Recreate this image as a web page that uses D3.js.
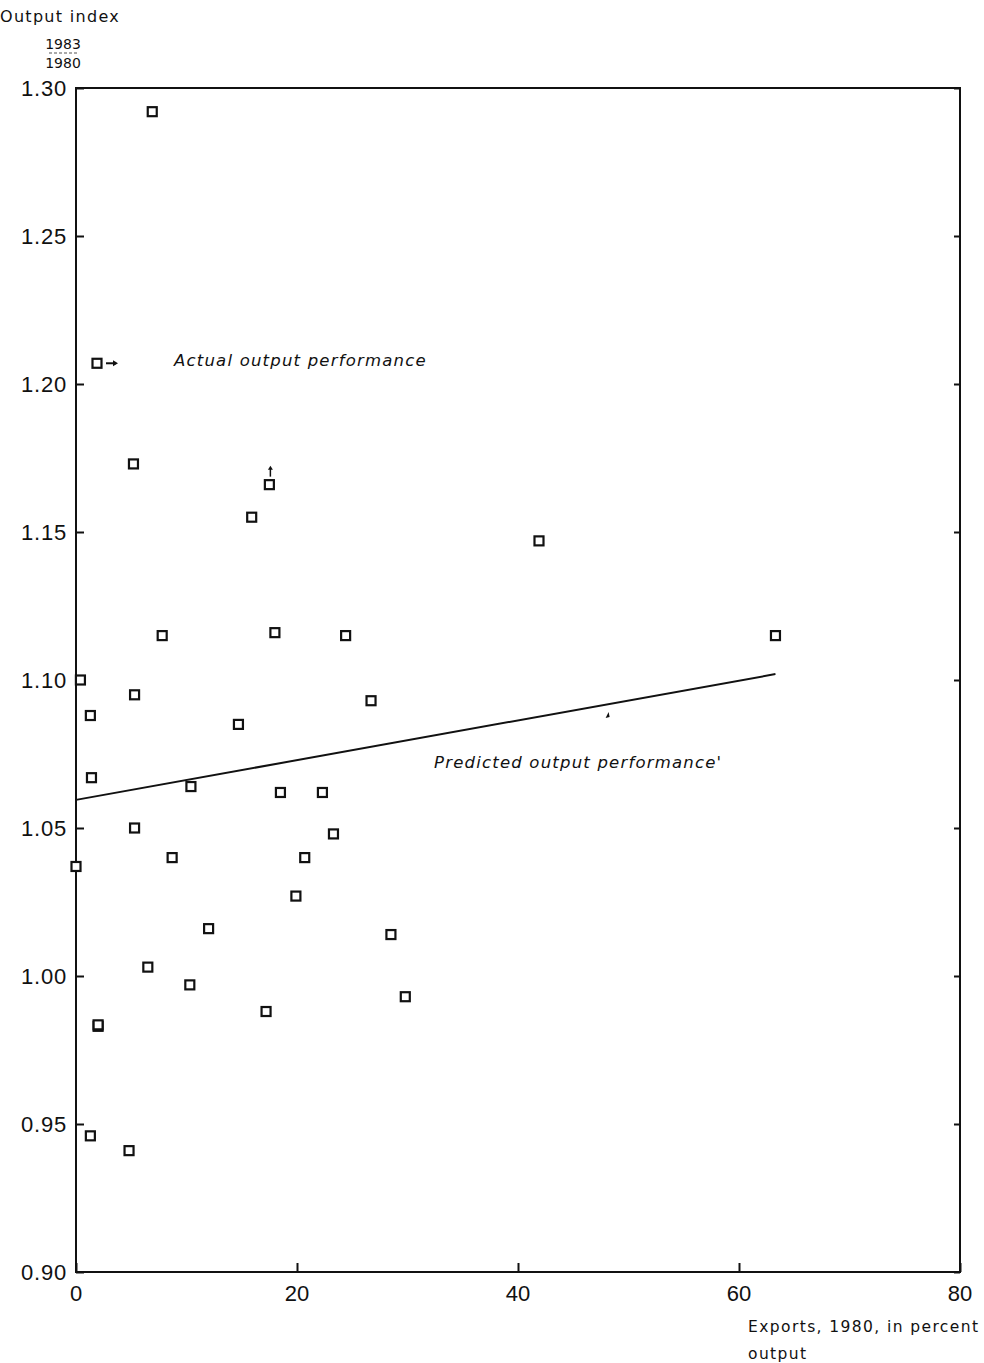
<!DOCTYPE html>
<html><head><meta charset="utf-8">
<script src="https://cdn.jsdelivr.net/npm/d3@7"></script>
<style>body{margin:0;background:#fff}svg{display:block}text{fill:#111}</style>
</head><body>
<script>
// Data
const exportsPct = [6.9,1.9,5.2,17.5,15.9,41.9,7.8,18.0,24.4,63.3,0.4,5.3,1.3,26.7,14.7,1.4,10.4,18.5,22.3,5.3,23.3,0.0,8.7,20.7,19.9,12.0,28.5,6.5,10.3,17.2,29.8,2.0,2.0,1.3,4.8];
const outputIdx = [1.292,1.207,1.173,1.166,1.155,1.147,1.115,1.116,1.115,1.115,1.100,1.095,1.088,1.093,1.085,1.067,1.064,1.062,1.062,1.050,1.048,1.037,1.040,1.040,1.027,1.016,1.014,1.003,0.997,0.988,0.993,0.983,0.9835,0.946,0.941];
const predictedX = [0, 63.3];
const predictedY = [1.0595, 1.102];
const xTicks = [0,20,40,60,80];
const yTicks = [0.90,0.95,1.00,1.05,1.10,1.15,1.20,1.25,1.30];

const W=984,H=1363;
const svg=d3.select("body").append("svg").attr("width",W).attr("height",H);
const x=d3.scaleLinear().domain([0,80]).range([76,960]);
const y=d3.scaleLinear().domain([0.90,1.30]).range([1272,88]);
const f="Liberation Sans, Arial, sans-serif";
const fs="DejaVu Sans, Verdana, sans-serif";

// frame
svg.append("rect").attr("x",x(0)).attr("y",y(1.30)).attr("width",x(80)-x(0)).attr("height",y(0.90)-y(1.30))
  .attr("fill","none").attr("stroke","#111").attr("stroke-width",2);

// left axis (ticks inward)
const gl=svg.append("g").attr("transform",`translate(${x(0)},0)`)
  .call(d3.axisRight(y).tickValues(yTicks).tickFormat("").tickSize(8));
gl.select(".domain").remove();
gl.selectAll("line").attr("stroke","#111").attr("stroke-width",2);
svg.append("g").selectAll("text").data(yTicks).join("text")
  .attr("x",x(0)-9).attr("y",d=>y(d)+8).attr("text-anchor","end")
  .attr("font-family",f).attr("font-size",22).attr("letter-spacing",0.8)
  .text(d=>d3.format(".2f")(d));
// right axis (ticks inward)
const gr=svg.append("g").attr("transform",`translate(${x(80)},0)`)
  .call(d3.axisLeft(y).tickValues(yTicks).tickFormat("").tickSize(6));
gr.select(".domain").remove();
gr.selectAll("line").attr("stroke","#111").attr("stroke-width",2);
// bottom axis
const gb=svg.append("g").attr("transform",`translate(0,${y(0.90)})`)
  .call(d3.axisTop(x).tickValues(xTicks).tickFormat("").tickSize(9));
gb.select(".domain").remove();
gb.selectAll("line").attr("stroke","#111").attr("stroke-width",2);
svg.append("g").selectAll("text").data(xTicks).join("text")
  .attr("x",d=>x(d)).attr("y",y(0.90)+29).attr("text-anchor","middle")
  .attr("font-family",f).attr("font-size",22)
  .text(d=>d);

// titles
svg.append("text").attr("x",0).attr("y",22).attr("font-family",fs).attr("font-size",16).attr("letter-spacing",1.3).text("Output index");
svg.append("text").attr("x",63).attr("y",49).attr("text-anchor","middle").attr("font-family",fs).attr("font-size",14).text("1983");
svg.append("line").attr("x1",49).attr("x2",77).attr("y1",53).attr("y2",53).attr("stroke","#555").attr("stroke-width",1).attr("stroke-dasharray","3,2");
svg.append("text").attr("x",63).attr("y",68).attr("text-anchor","middle").attr("font-family",fs).attr("font-size",14).text("1980");
svg.append("text").attr("x",748).attr("y",1332).attr("font-family",fs).attr("font-size",15.5).attr("letter-spacing",1.4).text("Exports, 1980, in percent");
svg.append("text").attr("x",748).attr("y",1359).attr("font-family",fs).attr("font-size",15.5).attr("letter-spacing",1.4).text("output");

// regression line
const pts=predictedX.map((d,i)=>[d,predictedY[i]]);
svg.append("path").datum(pts).attr("d",d3.line().x(d=>x(d[0])).y(d=>y(d[1])))
  .attr("fill","none").attr("stroke","#111").attr("stroke-width",2);

// points
const s=9;
svg.append("g").selectAll("rect").data(exportsPct.map((d,i)=>[d,outputIdx[i]])).join("rect")
  .attr("x",d=>x(d[0])-s/2).attr("y",d=>y(d[1])-s/2).attr("width",s).attr("height",s)
  .attr("fill","#fff").attr("stroke","#111").attr("stroke-width",2.2);

// annotations
svg.append("text").attr("x",174).attr("y",366).attr("font-family",fs).attr("font-style","italic").attr("font-size",16.5).attr("letter-spacing",1.2).text("Actual output performance");
svg.append("text").attr("x",434).attr("y",768).attr("font-family",fs).attr("font-style","italic").attr("font-size",16.5).attr("letter-spacing",1.2).text("Predicted output performance'");
// small arrows
svg.append("line").attr("x1",x(1.9)+9).attr("x2",x(1.9)+19).attr("y1",y(1.207)).attr("y2",y(1.207)).attr("stroke","#111").attr("stroke-width",2);
svg.append("path").attr("d",`M${x(1.9)+21},${y(1.207)} l-5,-3 l0,6 z`).attr("fill","#111");
svg.append("line").attr("x1",x(17.5)+1).attr("x2",x(17.5)+1).attr("y1",y(1.166)-8).attr("y2",y(1.166)-16).attr("stroke","#111").attr("stroke-width",1.5);
svg.append("path").attr("d",`M${x(17.5)+1},${y(1.166)-19} l-2.5,4 l5,0 z`).attr("fill","#111");
svg.append("path").attr("d",`M${x(48.2)},${y(1.0895)+1} l-3,6 l4,-1 z`).attr("fill","#111");
</script>
</body></html>
